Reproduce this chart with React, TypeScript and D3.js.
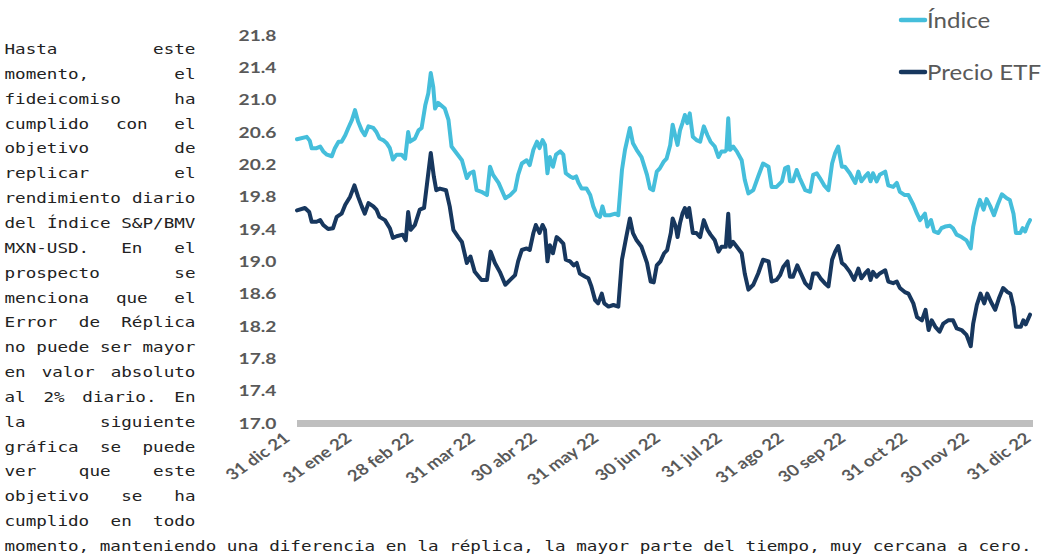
import React from "react";
import * as d3 from "d3";

const W = 1047;
const H = 559;

// ---------- text ----------
const paragraphLines = [
  "Hasta este",
  "momento, el",
  "fideicomiso ha",
  "cumplido con el",
  "objetivo de",
  "replicar el",
  "rendimiento diario",
  "del Índice S&P/BMV",
  "MXN-USD. En el",
  "prospecto se",
  "menciona que el",
  "Error de Réplica",
  "no puede ser mayor",
  "en valor absoluto",
  "al 2% diario. En",
  "la siguiente",
  "gráfica se puede",
  "ver que este",
  "objetivo se ha",
  "cumplido en todo",
];
const finalLine =
  "momento, manteniendo una diferencia en la réplica, la mayor parte del tiempo, muy cercana a cero.";

// ---------- chart data ----------
const xLabels = [
  "31 dic 21", "31 ene 22", "28 feb 22", "31 mar 22", "30 abr 22", "31 may 22",
  "30 jun 22", "31 jul 22", "31 ago 22", "30 sep 22", "31 oct 22", "30 nov 22", "31 dic 22",
];
const yTicks = [17.0, 17.4, 17.8, 18.2, 18.6, 19.0, 19.4, 19.8, 20.2, 20.6, 21.0, 21.4, 21.8];

const seriesNames = ["Índice", "Precio ETF"];

// time position measured in months from 31 dic 21
const indiceT = [0,0.16,0.21,0.24,0.32,0.38,0.43,0.49,0.57,0.62,0.68,0.73,0.79,0.84,0.90,0.95,1.00,1.06,1.11,1.17,1.25,1.30,1.35,1.41,1.47,1.52,1.57,1.63,1.71,1.77,1.82,1.85,1.93,1.99,2.04,2.10,2.15,2.19,2.23,2.26,2.31,2.42,2.48,2.53,2.61,2.70,2.78,2.83,2.89,2.94,3.02,3.11,3.16,3.21,3.30,3.41,3.49,3.57,3.62,3.68,3.76,3.81,3.87,3.93,3.97,4.02,4.06,4.10,4.14,4.19,4.24,4.31,4.36,4.40,4.47,4.52,4.57,4.61,4.66,4.74,4.80,4.85,4.91,4.96,5.00,5.04,5.12,5.21,5.26,5.32,5.37,5.45,5.50,5.56,5.64,5.73,5.78,5.83,5.89,5.94,6.00,6.05,6.11,6.15,6.19,6.23,6.27,6.31,6.35,6.39,6.43,6.48,6.54,6.60,6.66,6.72,6.77,6.84,6.90,6.95,7.01,7.03,7.06,7.09,7.14,7.20,7.28,7.33,7.39,7.47,7.55,7.63,7.72,7.77,7.85,7.94,7.99,8.04,8.07,8.12,8.18,8.23,8.32,8.40,8.45,8.51,8.56,8.63,8.70,8.76,8.81,8.86,8.92,8.97,9.05,9.14,9.19,9.24,9.30,9.35,9.39,9.43,9.49,9.54,9.63,9.68,9.76,9.82,9.87,9.95,10.01,10.09,10.15,10.20,10.28,10.32,10.38,10.43,10.50,10.55,10.61,10.69,10.74,10.80,10.88,10.96,11.03,11.07,11.13,11.18,11.24,11.29,11.35,11.41,11.47,11.54,11.62,11.67,11.73,11.77,11.84,11.88,11.92,11.96,12.00];
const indiceV = [20.51,20.54,20.49,20.40,20.40,20.42,20.36,20.32,20.30,20.40,20.48,20.48,20.56,20.65,20.75,20.87,20.73,20.62,20.56,20.67,20.65,20.60,20.52,20.50,20.46,20.40,20.26,20.32,20.32,20.27,20.60,20.48,20.52,20.62,20.65,20.93,21.08,21.33,21.16,20.89,20.96,20.89,20.75,20.42,20.34,20.25,20.03,20.09,20.11,19.88,19.86,19.82,20.17,20.07,19.97,19.78,19.82,19.88,20.07,20.21,20.25,20.19,20.38,20.48,20.40,20.50,20.44,20.09,20.29,20.17,20.32,20.36,20.32,20.09,20.05,20.03,20.05,19.97,19.90,19.90,19.82,19.68,19.57,19.55,19.68,19.57,19.57,19.59,19.57,20.13,20.38,20.65,20.46,20.38,20.29,20.07,19.90,19.88,20.11,20.15,20.23,20.27,20.44,20.69,20.56,20.44,20.62,20.71,20.81,20.71,20.83,20.54,20.50,20.48,20.67,20.56,20.48,20.42,20.29,20.36,20.36,20.38,20.77,20.38,20.42,20.36,20.25,20.01,19.84,19.88,20.05,20.21,20.17,19.92,19.92,19.99,20.15,20.17,19.99,19.99,20.13,20.03,19.88,19.86,20.07,20.09,20.03,19.94,19.88,20.21,20.34,20.42,20.17,20.17,20.09,19.97,20.11,19.99,20.05,20.09,19.99,20.09,19.99,20.07,20.11,19.94,19.92,19.97,19.86,19.82,19.82,19.70,19.59,19.51,19.59,19.43,19.51,19.37,19.35,19.41,19.43,19.44,19.41,19.33,19.30,19.26,19.16,19.43,19.64,19.76,19.64,19.77,19.68,19.57,19.70,19.83,19.78,19.76,19.59,19.35,19.35,19.41,19.37,19.45,19.51];

const etfT = [0,0.13,0.20,0.24,0.32,0.38,0.43,0.51,0.59,0.65,0.73,0.79,0.87,0.94,1.00,1.06,1.11,1.17,1.25,1.30,1.35,1.44,1.52,1.57,1.63,1.73,1.78,1.82,1.86,1.93,2.01,2.08,2.13,2.19,2.24,2.28,2.34,2.44,2.50,2.56,2.64,2.70,2.78,2.84,2.91,3.02,3.11,3.17,3.24,3.32,3.41,3.49,3.57,3.62,3.68,3.76,3.81,3.87,3.91,3.97,4.02,4.06,4.10,4.14,4.19,4.25,4.31,4.36,4.40,4.47,4.53,4.58,4.63,4.72,4.77,4.82,4.88,4.93,4.99,5.03,5.10,5.18,5.26,5.32,5.39,5.45,5.50,5.56,5.64,5.73,5.79,5.84,5.89,5.95,6.01,6.06,6.12,6.15,6.20,6.23,6.27,6.31,6.35,6.39,6.42,6.48,6.54,6.60,6.66,6.72,6.77,6.84,6.90,6.95,7.02,7.06,7.09,7.14,7.20,7.28,7.33,7.39,7.47,7.55,7.63,7.72,7.77,7.85,7.91,7.96,8.03,8.07,8.12,8.19,8.25,8.32,8.40,8.45,8.52,8.57,8.64,8.70,8.76,8.81,8.86,8.92,8.97,9.05,9.12,9.19,9.24,9.30,9.35,9.39,9.43,9.49,9.54,9.63,9.68,9.76,9.82,9.87,9.95,10.01,10.09,10.15,10.23,10.29,10.34,10.39,10.45,10.52,10.58,10.66,10.74,10.80,10.88,10.96,11.03,11.07,11.13,11.19,11.25,11.30,11.36,11.43,11.49,11.56,11.63,11.68,11.73,11.77,11.85,11.89,11.93,12.00];
const etfV = [19.63,19.66,19.61,19.49,19.49,19.51,19.45,19.40,19.41,19.55,19.59,19.70,19.80,19.94,19.80,19.68,19.59,19.72,19.68,19.64,19.55,19.51,19.41,19.29,19.31,19.33,19.26,19.61,19.39,19.45,19.64,19.66,19.97,20.34,20.05,19.88,19.90,19.88,19.68,19.39,19.30,19.24,18.98,19.06,18.87,18.77,18.77,19.12,18.98,18.87,18.71,18.77,18.83,19.00,19.14,19.16,19.14,19.35,19.45,19.35,19.45,19.39,19.00,19.20,19.10,19.30,19.26,19.22,19.02,19.00,18.95,18.98,18.85,18.81,18.79,18.69,18.52,18.48,18.60,18.48,18.44,18.46,18.44,19.02,19.30,19.53,19.35,19.26,19.18,18.98,18.75,18.74,18.95,19.00,19.10,19.14,19.35,19.53,19.43,19.30,19.47,19.59,19.66,19.55,19.66,19.35,19.35,19.30,19.51,19.39,19.33,19.26,19.12,19.18,19.18,19.59,19.18,19.24,19.18,19.10,18.85,18.65,18.71,18.85,19.02,19.00,18.75,18.77,18.83,18.93,19.00,18.81,18.81,18.95,18.85,18.73,18.67,18.85,18.85,18.79,18.73,18.69,19.02,19.12,19.19,18.98,18.95,18.87,18.77,18.91,18.79,18.85,18.89,18.77,18.87,18.81,18.85,18.89,18.75,18.73,18.75,18.67,18.62,18.60,18.48,18.31,18.27,18.40,18.15,18.27,18.19,18.13,18.23,18.27,18.27,18.17,18.15,18.09,17.95,18.23,18.46,18.60,18.48,18.60,18.50,18.40,18.54,18.67,18.62,18.60,18.44,18.19,18.19,18.27,18.22,18.34];

// ---------- styling ----------
const COLORS = ["#45BEDB", "#17375E"];
const AXIS_TEXT = "#595959";
const STRETCH = 1.2;

const MONO = "'DejaVu Sans Mono', monospace";
const MONO_SIZE = 14.5;
const ADV = 10.6; // visible advance per character
const MONO_SX = ADV / (MONO_SIZE * 0.6021);
const TEXT_LEFT = 4.5;
const COL_W = 191;
const BASE0 = 54;
const LINE_H = 24.85;

function Paragraph() {
  const lines = paragraphLines.map((line, i) => {
    const words = line.split(" ");
    const chars = words.reduce((s, w) => s + w.length, 0);
    const gap = words.length > 1 ? (COL_W - chars * ADV) / (words.length - 1) : 0;
    let x = 0;
    const spans = words.map((w, j) => {
      const el = (
        <tspan key={j} x={x / MONO_SX}>
          {w}
        </tspan>
      );
      x += w.length * ADV + gap;
      return el;
    });
    return (
      <text
        key={i}
        transform={`translate(${TEXT_LEFT},${BASE0 + i * LINE_H}) scale(${MONO_SX},1)`}
        fontFamily={MONO}
        fontSize={MONO_SIZE}
        fill="#222"
      >
        {spans}
      </text>
    );
  });
  return (
    <g>
      {lines}
      <text
        transform={`translate(${TEXT_LEFT},${BASE0 + paragraphLines.length * LINE_H}) scale(${MONO_SX},1)`}
        fontFamily={MONO}
        fontSize={MONO_SIZE}
        fill="#222"
        style={{ whiteSpace: "pre" }}
      >
        {finalLine}
      </text>
    </g>
  );
}

export default function App() {
  const x = d3.scaleLinear().domain([0, 12]).range([297, 1030]);
  const xLab = d3.scaleLinear().domain([0, xLabels.length - 1]).range([291, 1032]);
  const y = d3.scaleLinear().domain([17.0, 21.8]).range([423, 35]);

  const mk = (ts: number[], vs: number[]) =>
    d3.range(Math.min(ts.length, vs.length)).map((i) => [ts[i], vs[i]] as [number, number]);
  const line = d3
    .line<[number, number]>()
    .x((d) => x(d[0]))
    .y((d) => y(d[1]));

  const series = [mk(indiceT, indiceV), mk(etfT, etfV)];
  const font = "Lato, 'Open Sans', sans-serif";

  return (
    <svg
      width={W}
      height={H}
      style={{ position: "absolute", left: 0, top: 0, background: "#fff" }}
    >
      <rect width={W} height={H} fill="#fff" />
      <Paragraph />

      {/* y labels */}
      {yTicks.map((t) => (
        <text
          key={t}
          transform={`translate(276.5,${y(t) + 5.6}) scale(${STRETCH},1)`}
          textAnchor="end"
          fontFamily={font}
          fontWeight={700}
          fontSize={16}
          fill={AXIS_TEXT}
        >
          {t.toFixed(1)}
        </text>
      ))}

      {/* x axis bar */}
      <line x1={x(0)} x2={1033} y1={y(17) + 0.5} y2={y(17) + 0.5} stroke="#BFBFBF" strokeWidth={7} />

      {/* x labels */}
      {xLabels.map((l, i) => (
        <text
          key={l}
          transform={`translate(${xLab(i)},440) scale(${STRETCH},1) rotate(-40)`}
          textAnchor="end"
          fontFamily={font}
          fontWeight={700}
          fontSize={15.5}
          fill={AXIS_TEXT}
        >
          {l}
        </text>
      ))}

      {/* lines */}
      {series.map((s, i) => (
        <path
          key={i}
          d={line(s) || ""}
          fill="none"
          stroke={COLORS[i]}
          strokeWidth={4}
          strokeLinejoin="round"
          strokeLinecap="round"
        />
      ))}

      {/* legend */}
      {seriesNames.map((n, i) => (
        <g key={n}>
          <line
            x1={901}
            x2={925}
            y1={20 + i * 52}
            y2={20 + i * 52}
            stroke={COLORS[i]}
            strokeWidth={4.5}
            strokeLinecap="round"
          />
          <text
            transform={`translate(927,${28 + i * 52}) scale(1.12,1)`}
            fontFamily={font}
            fontSize={21.5}
            fill={AXIS_TEXT}
          >
            {n}
          </text>
        </g>
      ))}
    </svg>
  );
}
